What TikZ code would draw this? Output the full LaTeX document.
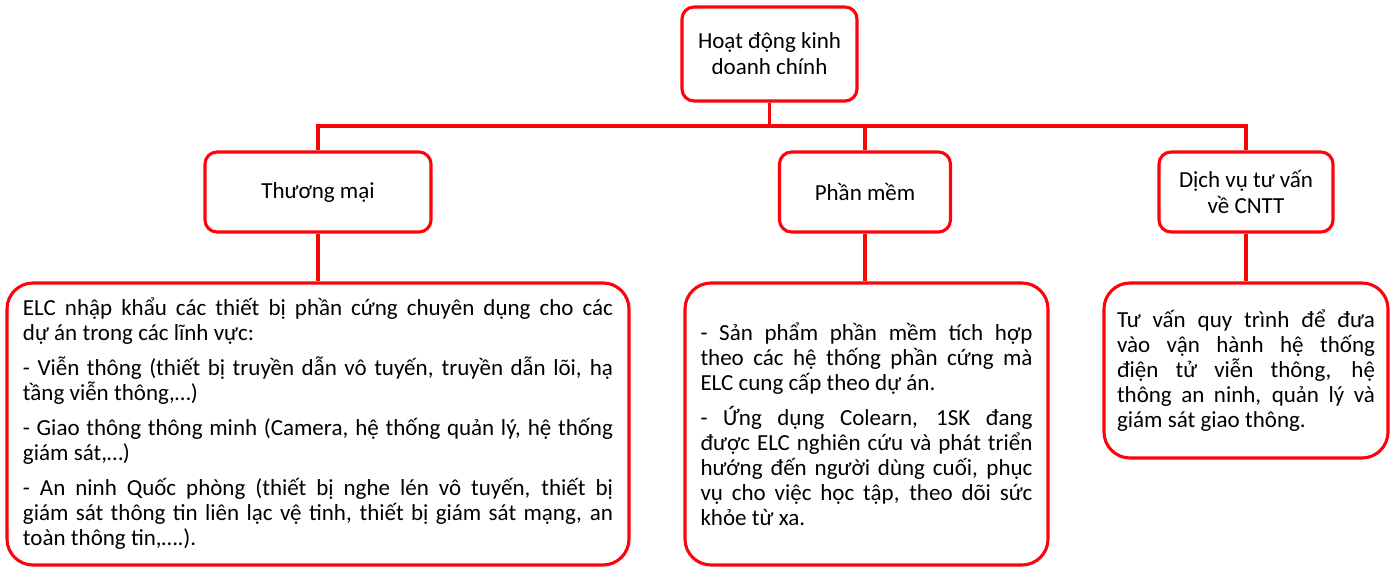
\documentclass[tikz,border=0pt]{standalone}
\usepackage{fontspec}
\setmainfont{Carlito}
\definecolor{boxred}{RGB}{252,4,12}
\newdimen\jw
\newcommand{\bodyset}[1]{\spaceskip=0.23em plus 1em minus 0.1em\relax\jw=#1\relax}
\newcommand{\jl}[1]{\leavevmode\hbox to \jw{#1}\\}
\begin{document}
\begin{tikzpicture}[x=1pt,y=-1pt,
  box/.style={draw=boxred,line width=3.1pt,rounded corners=12pt,fill=white,align=center,
    font=\fontsize{23}{26}\selectfont,inner sep=0pt},
  bigbox/.style={draw=boxred,line width=3.1pt,rounded corners=26pt,fill=white,align=left,
    font=\fontsize{23}{25}\selectfont,inner ysep=0pt},
  conn/.style={draw=boxred,line width=3.1pt}]
\useasboundingbox (0,0) rectangle (1392,567);
\fill[white] (0,0) rectangle (1392,567);

\node[box,minimum width=175pt,minimum height=94pt] (top) at (769.5,54) {Hoạt động kinh\\doanh chính};
\node[box,minimum width=226pt,minimum height=80pt] (tm) at (318,192) {Thương mại};
\node[box,minimum width=171pt,minimum height=80pt] (pm) at (865,192) {Phần mềm};
\node[box,minimum width=174pt,minimum height=80pt] (dv) at (1246,192) {Dịch vụ tư vấn\\về CNTT};

\node[bigbox,text width=590pt,inner xsep=16pt,minimum height=282pt] (tmd) at (318,424) {\bodyset{590pt}%
\jl{ELC nhập khẩu các thiết bị phần cứng chuyên dụng cho các}
dự án trong các lĩnh vực:\\[10pt]
\jl{- Viễn thông (thiết bị truyền dẫn vô tuyến, truyền dẫn lõi, hạ}
tầng viễn thông,…)\\[10pt]
\jl{- Giao thông thông minh (Camera, hệ thống quản lý, hệ thống}
giám sát,…)\\[10pt]
\jl{- An ninh Quốc phòng (thiết bị nghe lén vô tuyến, thiết bị}
\jl{giám sát thông tin liên lạc vệ tinh, thiết bị giám sát mạng, an}
toàn thông tin,….).};

\node[bigbox,text width=332pt,inner xsep=15.5pt,minimum height=282pt] (pmd) at (866.5,424) {\bodyset{332pt}%
\jl{- Sản phẩm phần mềm tích hợp}
\jl{theo các hệ thống phần cứng mà}
ELC cung cấp theo dự án.\\[10pt]
\jl{- Ứng dụng Colearn, 1SK đang}
\jl{được ELC nghiên cứu và phát triển}
\jl{hướng đến người dùng cuối, phục}
\jl{vụ cho việc học tập, theo dõi sức}
khỏe từ xa.};

\node[bigbox,text width=258pt,inner xsep=13pt,minimum height=175pt] (dvd) at (1246,370.5) {\bodyset{258pt}%
\jl{Tư vấn quy trình để đưa}
\jl{vào vận hành hệ thống}
\jl{điện tử viễn thông, hệ}
\jl{thông an ninh, quản lý và}
giám sát giao thông.};

\coordinate (hy) at (0,126);
\draw[conn] (top.south) -- (top.south |- hy);
\draw[conn] (tm.north) -- (tm.north |- hy) -- (dv.north |- hy) -- (dv.north);
\draw[conn] (pm.north |- hy) -- (pm.north);
\draw[conn] (tm.south) -- (tmd.north);
\draw[conn] (pm.south) -- (pm.south |- pmd.north);
\draw[conn] (dv.south) -- (dvd.north);
\end{tikzpicture}
\end{document}
